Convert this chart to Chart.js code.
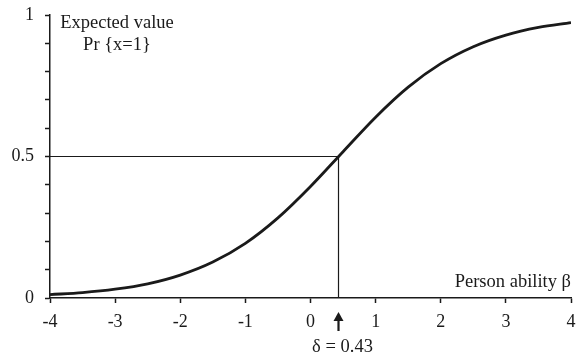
<!DOCTYPE html>
<html>
<head>
<meta charset="utf-8">
<script src="https://cdn.jsdelivr.net/npm/chart.js@4.4.1/dist/chart.umd.min.js"></script>
<style>
  html, body { margin: 0; padding: 0; background: #fff; }
  #wrap { width: 579px; height: 356px; }
</style>
</head>
<body>
<div id="wrap"><canvas id="icc"></canvas></div>
<script>
// item characteristic curve
const abilityX = [-4, -3.5, -3, -2.5, -2, -1.5, -1, -0.5, 0, 0.5, 1, 1.5, 2, 2.5, 3, 3.5, 4];
const expectedY = [0.012, 0.019, 0.031, 0.050, 0.081, 0.127, 0.193, 0.283, 0.394, 0.517, 0.639, 0.745, 0.828, 0.888, 0.929, 0.956, 0.973];
const delta = 0.43;
const halfLevel = 0.5;
const yLabelTicks = [0, 0.5, 1];

const SERIF = "'Liberation Serif', 'Times New Roman', serif";
const INK = '#1a1a1a';

// annotation texts drawn on top of the chart
const annotations = {
    id: 'annotations',
    afterDraw(chart) {
        const ctx = chart.ctx;
        const xs = chart.scales.x;
        const dx = xs.getPixelForValue(delta);
        ctx.save();
        ctx.fillStyle = INK;
        ctx.font = '18.5px ' + SERIF;
        ctx.textAlign = 'center';
        ctx.textBaseline = 'middle';
        ctx.fillText('Expected value', 117, 23);
        ctx.fillText('Pr {x=1}', 117, 45);
        ctx.textAlign = 'right';
        ctx.fillText('Person ability \u03b2', 571, 282);
        ctx.textAlign = 'center';
        ctx.fillText('\u03b4 = 0.43', dx + 4, 347);
        // arrow under delta
        ctx.strokeStyle = INK;
        ctx.lineWidth = 2.2;
        ctx.beginPath();
        ctx.moveTo(dx, 331);
        ctx.lineTo(dx, 318);
        ctx.stroke();
        ctx.beginPath();
        ctx.moveTo(dx - 5, 321);
        ctx.lineTo(dx, 312);
        ctx.lineTo(dx + 5, 321);
        ctx.closePath();
        ctx.fill();
        ctx.restore();
    }
};

new Chart(document.getElementById('icc'), {
    type: 'scatter',
    data: {
        datasets: [
            {
                data: abilityX.map((x, i) => ({ x: x, y: expectedY[i] })),
                showLine: true,
                borderColor: INK,
                borderWidth: 2.8,
                pointRadius: 0,
                cubicInterpolationMode: 'monotone'
            },
            {
                data: [{ x: abilityX[0], y: halfLevel }, { x: delta, y: halfLevel }],
                showLine: true,
                borderColor: INK,
                borderWidth: 1.2,
                pointRadius: 0
            },
            {
                data: [{ x: delta, y: 0 }, { x: delta, y: halfLevel }],
                showLine: true,
                borderColor: INK,
                borderWidth: 1.2,
                pointRadius: 0
            }
        ]
    },
    options: {
        responsive: true,
        maintainAspectRatio: false,
        animation: false,
        layout: { padding: { left: 0, right: 8, top: 15, bottom: 0 } },
        plugins: { legend: { display: false }, tooltip: { enabled: false } },
        scales: {
            x: {
                type: 'linear',
                min: -4, max: 4,
                afterFit: s => { s.height = 58; s.paddingLeft = 0; s.paddingRight = 0; },
                border: { color: INK, width: 1.5 },
                grid: { drawOnChartArea: false, tickLength: 5, tickColor: INK, tickWidth: 1.5 },
                ticks: { stepSize: 1, color: INK, padding: 8, maxRotation: 0, font: { family: SERIF, size: 18 } }
            },
            y: {
                min: 0, max: 1,
                afterFit: s => { s.width = 50; s.paddingTop = 0; s.paddingBottom = 0; },
                border: { color: INK, width: 1.5 },
                grid: { drawOnChartArea: false, tickLength: 5, tickColor: INK, tickWidth: 1.5 },
                ticks: {
                    stepSize: 0.1, color: INK, padding: 11,
                    font: { family: SERIF, size: 18 },
                    callback: v => {
                        const hit = yLabelTicks.find(t => Math.abs(t - v) < 1e-9);
                        return hit === undefined ? '' : String(hit);
                    }
                }
            }
        }
    },
    plugins: [annotations]
});
</script>
</body>
</html>
